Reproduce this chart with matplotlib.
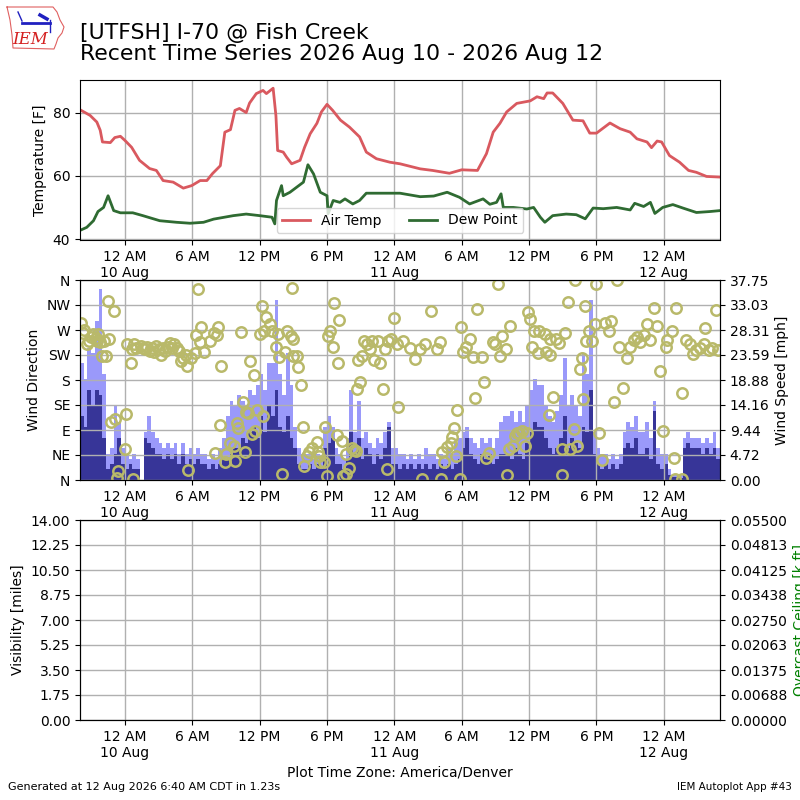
import datetime

import matplotlib
matplotlib.use("Agg")
import matplotlib.pyplot as plt
import matplotlib.dates as mdates
from matplotlib.lines import Line2D
from matplotlib.ticker import FuncFormatter, FixedLocator

# hours after 2026-08-09 20:00 (America/Denver)
START = datetime.datetime(2026, 8, 9, 20, 0)
END_HOURS = 57

temp_hours = [0.1, 0.9, 1.5, 1.8, 2.0, 2.7, 3.1, 3.6, 4.0, 4.6, 5.3, 6.2, 6.8, 7.4, 8.3, 9.2,
              9.95, 10.7, 11.3, 11.8, 12.5, 12.9, 13.4, 13.8, 14.2, 14.8, 15.1, 15.7, 16.3, 16.6,
              17.2, 17.45, 17.6, 18.1, 18.4, 18.85, 19.6, 20.0, 20.5, 21.1, 21.5, 22.0, 22.5,
              23.2, 24.0, 24.9, 25.5, 26.4, 27.6, 28.5, 30.3, 31.4, 32.9, 34.0, 35.4, 36.2,
              36.8, 37.4, 38.0, 38.9, 40.1, 40.7, 41.3, 41.6, 42.1, 43.0, 43.9, 44.8, 45.4,
              46.0, 47.2, 48.1, 49.0, 49.6, 50.5, 50.9, 51.4, 51.8, 52.5, 53.4, 54.2, 54.9,
              55.8, 57.0]
air_temp = [80.7, 79.1, 77.0, 74.4, 70.7, 70.5, 72.1, 72.5, 71.2, 69.0, 64.9, 62.3, 61.7, 58.5,
            58.0, 56.1, 56.9, 58.5, 58.5, 60.7, 63.2, 73.8, 74.6, 80.7, 81.3, 80.0, 83.0, 86.0,
            87.0, 86.0, 87.7, 79.0, 68.0, 67.5, 65.9, 63.8, 64.9, 69.0, 73.3, 76.6, 80.2, 82.6,
            80.7, 77.6, 75.4, 72.3, 67.5, 65.4, 64.3, 63.8, 62.2, 61.7, 60.8, 61.9, 61.7, 67.0,
            73.8, 76.6, 80.2, 82.9, 83.7, 85.0, 84.4, 86.2, 86.2, 82.9, 77.6, 77.4, 73.5, 73.5,
            76.7, 74.9, 73.8, 71.7, 70.7, 68.9, 71.0, 70.7, 66.4, 64.3, 61.7, 61.1, 59.8, 59.6]

dew_hours = [0.1, 0.6, 1.2, 1.6, 2.1, 2.5, 3.0, 3.6, 4.7, 5.6, 7.1, 8.6, 9.8, 11.0, 11.9, 13.65,
             14.8, 16.0, 17.1, 17.35, 17.5, 17.95, 18.1, 18.7, 19.3, 19.9, 20.3, 20.8, 21.4,
             22.0, 22.1, 22.55, 23.15, 23.6, 24.3, 24.9, 25.5, 27.0, 28.5, 30.3, 31.5, 32.7,
             33.8, 34.7, 35.9, 36.5, 37.1, 37.5, 37.7, 38.6, 39.8, 40.4, 41.0, 41.4, 42.1,
             43.3, 44.2, 45.0, 45.7, 46.6, 47.8, 49.0, 49.4, 50.2, 50.8, 51.2, 51.9, 52.8,
             53.7, 54.9, 56.1, 57.0]
dew_point = [42.9, 43.7, 45.8, 48.7, 50.0, 53.7, 49.0, 48.3, 48.3, 47.4, 45.8, 45.3, 45.0, 45.3,
             46.3, 47.4, 47.9, 47.4, 46.9, 44.8, 52.2, 56.9, 53.7, 54.8, 56.4, 58.0, 63.5, 60.6,
             54.8, 53.7, 48.0, 52.2, 51.6, 52.7, 51.1, 52.2, 54.5, 54.5, 54.5, 53.4, 53.6, 54.8,
             53.2, 51.1, 52.7, 51.0, 51.6, 54.3, 50.0, 50.0, 49.5, 50.0, 46.9, 45.3, 47.4, 47.9,
             47.7, 46.4, 49.8, 49.6, 50.0, 49.2, 51.3, 50.3, 51.6, 48.1, 50.0, 50.9, 49.8, 48.4,
             48.7, 49.0]

# wind speed / gust [mph], one value every 20 minutes
WIND_STEP_MIN = 20
wind_speed = [12, 10, 17, 14, 17, 16, 8, 2, 3, 5, 8, 3, 2, 3, 2, 2, 0, 8, 7, 6, 5, 5, 4, 5,
              4, 5, 3, 5, 3, 4, 3, 4, 3, 3, 2, 3, 2, 3, 4, 4, 5, 6, 6, 8, 7, 9, 10, 8,
              12, 9, 14, 12, 17, 10, 9, 12, 8, 6, 3, 2, 2, 3, 2, 3, 2, 6, 7, 8, 3, 3, 2, 4,
              9, 5, 8, 4, 6, 5, 3, 5, 4, 6, 10, 3, 3, 2, 3, 2, 3, 2, 3, 2, 3, 2, 3, 2,
              3, 2, 3, 2, 3, 4, 6, 8, 5, 4, 3, 5, 4, 5, 3, 4, 5, 5, 5, 4, 6, 5, 4, 7,
              9, 11, 10, 10, 8, 6, 5, 6, 8, 12, 6, 8, 7, 6, 10, 9, 17, 5, 3, 2, 3, 2, 3, 2,
              3, 6, 7, 6, 8, 5, 5, 6, 4, 13, 3, 2, 3, 1, 0.5, 0.5, 0.3, 6, 7, 6, 6, 6, 5, 6,
              5, 6, 4]
wind_gust = [22, 19, 25, 24, 30, 36, 20, 5, 6, 14, 11, 6, 5, 4, 5, 4, 0, 9, 12, 9, 8, 7, 6, 7,
             6, 7, 5, 7, 5, 6, 5, 6, 5, 5, 4, 5, 4, 6, 8, 12, 15, 14, 16, 15, 14, 17, 16, 18,
             20, 17, 22, 22, 34, 20, 16, 24, 18, 10, 6, 5, 5, 5, 4, 5, 4, 10, 12, 10, 6, 5, 4, 8,
             17, 9, 15, 8, 9, 7, 6, 8, 7, 9, 11, 6, 6, 5, 5, 4, 5, 4, 5, 4, 6, 5, 5, 4,
             5, 4, 6, 5, 7, 8, 9, 10, 8, 7, 6, 8, 7, 8, 6, 8, 11, 12, 12, 13, 11, 13, 11, 14,
             17, 19, 18, 18, 14, 12, 11, 13, 16, 23, 14, 16, 14, 12, 24, 20, 34, 9, 6, 5, 5, 4, 5, 4,
             5, 9, 11, 10, 12, 9, 9, 11, 8, 15, 6, 5, 5, 2, 1, 1, 1, 8, 9, 8, 8, 8, 7, 8,
             7, 9, 6]

dir_hours = [0.1, 0.3, 0.4, 0.6, 0.8, 1.0, 1.2, 1.4, 1.5, 1.6, 1.8, 2.0, 2.1, 2.3, 2.5, 2.6,
             2.8, 3.0, 3.1, 3.3, 3.4, 4.0, 4.1, 4.2, 4.5, 4.6, 4.7, 4.8, 5.0, 5.4, 5.6, 5.8,
             6.0, 6.2, 6.4, 6.6, 6.8, 7.0, 7.2, 7.4, 7.6, 7.8, 8.0, 8.2, 8.4, 8.6, 8.8, 9.0,
             9.2, 9.4, 9.5, 9.6, 9.9, 10.2, 10.3, 10.5, 10.7, 10.8, 11.0, 11.6, 11.9, 12.0,
             12.2, 12.3, 12.5, 12.6, 12.9, 13.0, 13.4, 13.7, 13.8, 14.0, 14.1, 14.3, 14.5,
             14.7, 14.8, 15.0, 15.1, 15.3, 15.5, 15.6, 15.8, 16.0, 16.2, 16.3, 16.4, 16.6,
             16.9, 17.1, 17.5, 17.6, 17.7, 18.0, 18.3, 18.4, 18.8, 18.9, 18.95, 19.0, 19.3,
             19.4, 19.65, 19.9, 19.95, 20.2, 20.4, 20.7, 21.1, 21.2, 21.3, 21.4, 21.7, 21.8,
             22.0, 22.1, 22.3, 22.5, 22.6, 22.9, 23.0, 23.1, 23.3, 23.4, 23.65, 23.7, 24.0,
             24.2, 24.4, 24.6, 24.65, 24.8, 24.9, 25.1, 25.3, 25.6, 25.8, 26.0, 26.2, 26.5,
             26.7, 27.0, 27.2, 27.3, 27.4, 27.7, 28.0, 28.2, 28.35, 28.8, 29.4, 29.8, 30.3,
             30.5, 30.7, 31.3, 31.8, 32.1, 32.15, 32.2, 32.4, 32.7, 33.0, 33.1, 33.3, 33.5,
             33.6, 33.8, 33.9, 34.1, 34.4, 34.7, 35.0, 35.2, 35.4, 35.8, 36.0, 36.2, 36.4,
             36.8, 37.0, 37.2, 37.4, 37.6, 37.9, 38.0, 38.2, 38.3, 38.6, 38.7, 38.9, 39.1,
             39.4, 39.6, 39.8, 39.9, 40.1, 40.3, 40.4, 40.8, 40.9, 41.4, 41.5, 41.8, 41.85,
             41.9, 42.1, 42.4, 42.7, 42.9, 42.95, 43.2, 43.5, 43.6, 44.0, 44.1, 44.3, 44.5,
             44.7, 44.8, 45.0, 45.1, 45.3, 45.6, 45.9, 46.0, 46.2, 46.5, 46.8, 47.1, 47.3,
             47.6, 47.8, 48.0, 48.4, 48.7, 49.0, 49.3, 49.6, 49.9, 50.2, 50.5, 50.8, 51.1,
             51.4, 51.7, 51.9, 52.2, 52.3, 52.7, 52.9, 53.0, 53.1, 53.6, 53.65, 54.0, 54.3,
             54.6, 54.9, 55.2, 55.6, 55.7, 56.0, 56.3, 56.6, 56.8]
wind_dir = [283, 265, 270, 245, 250, 257, 262, 255, 250, 262, 248, 224, 250, 224, 323, 253,
            104, 305, 109, 4, 17, 56, 119, 245, 211, 235, 2, 245, 238, 242, 238, 236,
            240, 232, 238, 230, 242, 236, 225, 238, 232, 240, 246, 238, 244, 238, 232, 215,
            220, 225, 206, 18, 219, 229, 261, 343, 249, 275, 231, 251, 264, 49,
            261, 275, 99, 206, 33, 47, 66, 62, 35, 102, 94, 266, 141,
            51, 123, 121, 215, 83, 189, 88, 126, 262, 313, 115, 268, 294,
            281, 268, 240, 263, 222, 11, 231, 269, 259, 345, 254, 224, 224,
            204, 171, 95, 25, 43, 50, 58, 68, 50, 43, 33, 32, 96,
            8, 259, 269, 240, 319, 81, 211, 288, 70, 8, 11, 47, 22,
            58, 54, 52, 163, 216, 177, 223, 250, 245, 236, 250, 216, 250,
            210, 163, 236, 20, 250, 254, 291, 245, 131, 250, 238, 218, 236,
            1, 244, 304, 236, 248, 1, 50, 33, 59, 66, 77, 94, 43,
            126, 1, 276, 230, 240, 254, 222, 148, 308, 222, 177, 40, 49,
            248, 245, 352, 223, 260, 236, 9, 56, 277, 62, 80, 85, 85,
            88, 62, 85, 302, 289, 240, 269, 228, 269, 263, 230, 117, 254,
            225, 150, 254, 247, 9, 55, 265, 320, 55, 91, 360, 62, 200,
            220, 146, 313, 250, 269, 250, 280, 352, 84, 36, 283, 269, 286,
            140, 360, 239, 166, 220, 239, 252, 258, 248, 261, 281, 252, 310,
            277, 197, 88, 240, 252, 269, 39, 1, 310, 1, 157, 252, 245,
            227, 234, 238, 245, 273, 234, 238, 306, 234]

dir_ticks = [0, 45, 90, 135, 180, 225, 270, 315, 360]
dir_labels = ["N", "NE", "E", "SE", "S", "SW", "W", "NW", "N"]
speed_max = 37.75
vis_max = 14.0
ceiling_max = 0.055


def to_times(hours):
    return [START + datetime.timedelta(hours=h) for h in hours]


def hour_label(x, pos):
    d = mdates.num2date(x)
    h = d.hour
    if h == 0:
        return "12 AM\n%d Aug" % d.day
    return "%d %s" % (h % 12 or 12, "AM" if h < 12 else "PM")


def setup_time_axis(ax):
    ax.set_xlim(START, START + datetime.timedelta(hours=END_HOURS))
    ax.xaxis.set_major_locator(mdates.HourLocator(byhour=[0, 6, 12, 18]))
    ax.xaxis.set_major_formatter(FuncFormatter(hour_label))
    ax.grid(True, color="#b0b0b0", linewidth=1)


def px(x, y):
    # figure pixel (from top-left) -> figure fraction
    return x / 800.0, 1 - y / 800.0


def draw_logo(fig):
    outline = [(7, 7), (53, 7), (57, 12), (60, 20), (64, 27), (62, 33), (58, 38),
               (56, 44), (54, 49), (13, 48), (12, 35), (10, 20), (7, 7)]
    xs, ys = zip(*[px(a, b) for a, b in outline])
    fig.add_artist(Line2D(xs, ys, transform=fig.transFigure, color="#e06060", lw=0.8))
    xs, ys = zip(*[px(a, b) for a, b in [(22, 23), (50, 23)]])
    fig.add_artist(Line2D(xs, ys, transform=fig.transFigure, color="#2020c0", lw=2))
    xs, ys = zip(*[px(a, b) for a, b in [(18, 12), (22, 21)]])
    fig.add_artist(Line2D(xs, ys, transform=fig.transFigure, color="#2020c0", lw=1))
    xs, ys = zip(*[px(a, b) for a, b in [(40, 15), (47, 19)]])
    fig.add_artist(Line2D(xs, ys, transform=fig.transFigure, color="#2020c0", lw=2.5))
    xs, ys = zip(*[px(a, b) for a, b in [(50, 20), (50, 32)]])
    fig.add_artist(Line2D(xs, ys, transform=fig.transFigure, color="#2020c0", lw=1))
    fig.text(*px(30, 39), "IEM", color="#d42020", fontsize=12, family="serif",
             style="italic", ha="center", va="center")


fig = plt.figure(figsize=(8, 8), dpi=100)

fig.text(0.1, 0.9455, "[UTFSH] I-70 @ Fish Creek\nRecent Time Series 2026 Aug 10 - 2026 Aug 12",
         fontsize=15.8, ha="left", va="center", linespacing=1.1)
draw_logo(fig)

# temperature
ax1 = fig.add_axes([0.1, 0.70, 0.8, 0.20])
ax1.plot(to_times(temp_hours), air_temp, color="#d9595f", lw=2, label="Air Temp")
ax1.plot(to_times(dew_hours), dew_point, color="#2f6b32", lw=2, label="Dew Point")
ax1.set_ylim(39.7, 90.3)
ax1.set_yticks([40, 60, 80])
ax1.set_ylabel("Temperature [F]")
setup_time_axis(ax1)
ax1.legend(loc="lower center", ncol=2)

# wind
ax2 = fig.add_axes([0.1, 0.40, 0.8, 0.25])
ax2b = ax2.twinx()
wind_times = [START + datetime.timedelta(minutes=WIND_STEP_MIN * i) for i in range(len(wind_speed))]
bar_w = WIND_STEP_MIN / 1440.0
ax2b.bar(wind_times, wind_gust, width=bar_w, align="edge", color="#9a99fa", linewidth=0)
ax2b.bar(wind_times, wind_speed, width=bar_w, align="edge", color="#373598", linewidth=0)
ax2b.set_ylim(0, speed_max)
ax2b.yaxis.set_major_locator(FixedLocator([speed_max * i / 8 for i in range(9)]))
ax2b.yaxis.set_major_formatter(FuncFormatter(lambda v, p: "%.2f" % v))
ax2b.set_ylabel("Wind Speed [mph]")
ax2.set_zorder(ax2b.get_zorder() + 1)
ax2.patch.set_visible(False)
ax2.plot(to_times(dir_hours), wind_dir, linestyle="none", marker="o", ms=7.5, mfc="none",
         mec="#b9b96a", mew=1.8)
ax2.set_ylim(0, 360)
ax2.set_yticks(dir_ticks)
ax2.set_yticklabels(dir_labels)
ax2.set_ylabel("Wind Direction")
setup_time_axis(ax2)

# visibility / ceiling
ax3 = fig.add_axes([0.1, 0.10, 0.8, 0.25])
ax3b = ax3.twinx()
ax3.set_ylim(0, vis_max)
ax3.yaxis.set_major_locator(FixedLocator([vis_max * i / 8 for i in range(9)]))
ax3.yaxis.set_major_formatter(FuncFormatter(lambda v, p: "%.2f" % v))
ax3.set_ylabel("Visibility [miles]")
ax3b.set_ylim(0, ceiling_max)
ax3b.yaxis.set_major_locator(FixedLocator([ceiling_max * i / 8 for i in range(9)]))
ax3b.yaxis.set_major_formatter(FuncFormatter(lambda v, p: "%.5f" % v))
ax3b.set_ylabel("Overcast Ceiling [k ft]", color="green")
setup_time_axis(ax3)
ax3.set_xlabel("Plot Time Zone: America/Denver")

fig.text(0.01, 0.013, "Generated at 12 Aug 2026 6:40 AM CDT in 1.23s", fontsize=8, ha="left")
fig.text(0.99, 0.013, "IEM Autoplot App #43", fontsize=7.5, ha="right")

fig.savefig("out.png", dpi=100)
